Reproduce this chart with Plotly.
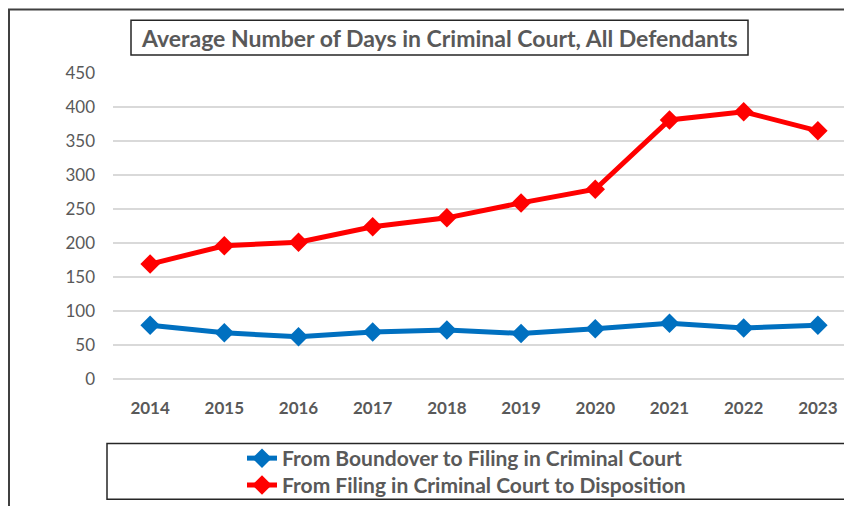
import plotly.graph_objects as go

years = ["2014", "2015", "2016", "2017", "2018", "2019", "2020", "2021", "2022", "2023"]
boundover_to_filing = [79, 68, 62, 69, 72, 67, 74, 82, 75, 79]
filing_to_disposition = [169, 196, 201, 224, 237, 259, 279, 381, 393, 365]
y_ticks = [0, 50, 100, 150, 200, 250, 300, 350, 400, 450]

title_text = "Average Number of Days in Criminal Court, All Defendants"
FONT = "Lato"
GRAY = "#595959"

OFFX, OFFY = 8, 8  # default body margin of the html page
W, H = 852 - OFFX, 514 - 2 * OFFY
ZERO_Y, TOP_Y = 381, 73  # page pixel rows of 0 and 450
L, R, T = 113 - OFFX, 0, TOP_Y - OFFY
B = H - (ZERO_Y - OFFY)
pw, ph = W - L - R, H - T - B

def px(x):
    return (x - OFFX - L) / pw

def py(y):
    return (H - B - (y - OFFY)) / ph

fig = go.Figure()
fig.add_trace(go.Scatter(
    x=years, y=boundover_to_filing, mode="lines+markers",
    name="From Boundover to Filing in Criminal Court",
    line=dict(color="#0070C0", width=5),
    marker=dict(symbol="diamond", size=15, color="#0070C0"),
    legend="legend",
))
fig.add_trace(go.Scatter(
    x=years, y=filing_to_disposition, mode="lines+markers",
    name="From Filing in Criminal Court to Disposition",
    line=dict(color="#FF0000", width=5),
    marker=dict(symbol="diamond", size=15, color="#FF0000"),
    legend="legend2",
))

shapes = [
    # outer chart border
    dict(type="rect", xref="paper", yref="paper",
         x0=px(9), x1=px(850), y0=py(560), y1=py(OFFY + 1),
         line=dict(color="#404040", width=2), fillcolor="rgba(0,0,0,0)", layer="below"),
    # title box
    dict(type="rect", xref="paper", yref="paper",
         x0=px(131), x1=px(748), y0=py(55), y1=py(20),
         line=dict(color="#262626", width=1.5), fillcolor="white"),
    # legend box
    dict(type="rect", xref="paper", yref="paper",
         x0=px(107), x1=px(848), y0=py(502), y1=py(446),
         line=dict(color="#262626", width=1.5), fillcolor="rgba(0,0,0,0)"),
]

legend_style = dict(
    xanchor="left", yanchor="middle",
    font=dict(family=FONT, size=21, color=GRAY, weight="bold"),
    bgcolor="rgba(0,0,0,0)", borderwidth=0, tracegroupgap=0,
)

fig.update_layout(
    width=W, height=H,
    margin=dict(l=L, r=R, t=T, b=B, pad=0),
    paper_bgcolor="white", plot_bgcolor="white",
    font=dict(family=FONT, color=GRAY),
    shapes=shapes,
    annotations=[dict(
        text=title_text, xref="paper", yref="paper",
        x=px(439.5), y=py(37.5), xanchor="center", yanchor="middle",
        showarrow=False, font=dict(family=FONT, size=23, color=GRAY, weight="bold"),
    )],
    showlegend=True,
    legend=dict(x=px(242), y=py(461), **legend_style),
    legend2=dict(x=px(242), y=py(488), **legend_style),
    xaxis=dict(
        type="category", range=[-0.5, 9.46],
        showgrid=False, showline=False, zeroline=False, ticks="",
        tickfont=dict(family=FONT, size=17, color=GRAY, weight="bold"),
        ticklabelstandoff=17,
    ),
    yaxis=dict(
        range=[0, 450], tickvals=y_ticks,
        showgrid=True, gridcolor="#D9D9D9", gridwidth=1.5,
        zeroline=True, zerolinecolor="#D9D9D9", zerolinewidth=1.5,
        showline=False, ticks="",
        tickfont=dict(family=FONT, size=17, color=GRAY),
        ticklabelstandoff=17,
    ),
)

fig.write_html("out.html")
